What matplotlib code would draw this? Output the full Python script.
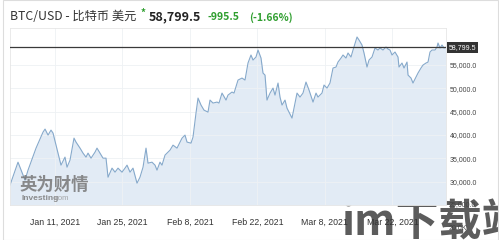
import numpy as np
import pandas as pd
import matplotlib
matplotlib.use('Agg')
import matplotlib.pyplot as plt
from matplotlib.patches import Rectangle
from matplotlib.ticker import FuncFormatter

plt.rcParams['font.family'] = ['Liberation Sans', 'Noto Sans CJK SC', 'DejaVu Sans']

# 数据：自 2021-01-01 起的天数 与 BTC/USD 价格
days = [0.66, 2.32, 3.78, 4.40, 6.06, 7.51, 7.93, 8.55, 9.17, 9.59,
        10.62, 11.24, 12.07, 12.49, 13.11, 13.94, 14.36, 15.19, 15.81, 16.43,
        16.85, 17.47, 18.30, 18.71, 19.34, 19.96, 20.58, 21.00, 21.83, 22.45,
        23.07, 23.90, 24.52, 24.94, 25.56, 26.18, 27.01, 27.63, 28.26, 28.88,
        29.29, 30.12, 30.75, 31.16, 31.78, 32.20, 32.82, 33.86, 34.48, 35.31,
        36.35, 36.97, 37.39, 38.22, 38.63, 39.25, 39.67, 40.29, 40.91, 41.74,
        42.16, 42.78, 43.61, 44.02, 44.65, 45.48, 45.89, 46.72, 47.14, 47.97,
        48.80, 49.42, 50.04, 50.66, 51.08, 51.70, 52.12, 52.74, 53.15, 53.57,
        53.98, 54.61, 55.23, 55.64, 56.27, 56.68, 57.10, 57.72, 58.13, 59.17,
        59.79, 60.21, 60.83, 61.45, 62.07, 62.70, 63.53, 64.15, 64.56, 65.39,
        65.81, 66.43, 67.05, 67.68, 68.30, 68.71, 69.34, 69.75, 70.37, 70.79,
        71.41, 71.83, 72.66, 73.07, 73.69, 74.11, 74.73, 75.15, 75.77, 76.39,
        77.01, 77.43, 78.05, 78.67, 79.09, 79.50, 79.92, 80.54, 81.16, 81.37,
        81.99, 82.41, 83.03, 83.24, 83.86, 84.27, 84.90, 85.31, 85.93, 86.35,
        86.97, 87.39, 87.80, 88.22, 88.84, 89.25, 89.46, 89.88, 90.29, 90.71,
        91.12]
prices = [29250, 34180, 30320, 32470, 37190, 40620, 41270, 39980, 41050, 40410,
          36120, 33540, 35260, 33110, 34610, 39330, 38480, 37190, 36120, 35260,
          36120, 35040, 36330, 37190, 36120, 35040, 35040, 30960, 32900, 32040,
          32900, 32040, 32900, 33540, 32040, 32900, 29680, 30960, 33110, 37190,
          33970, 34180, 33540, 32470, 34180, 33540, 35690, 36760, 37830, 37190,
          39330, 39980, 38480, 38260, 39550, 44700, 47920, 46420, 45340, 44910,
          47490, 46850, 47060, 46850, 48990, 47490, 48560, 49210, 48990, 51780,
          52210, 51780, 55430, 57150, 56070, 56720, 58220, 56500, 53280, 52850,
          47490, 48990, 50060, 48560, 51140, 48130, 46420, 47490, 45770, 43630,
          46850, 48990, 48130, 48990, 51350, 49640, 47060, 48990, 48130, 48990,
          50710, 50060, 51140, 54360, 54570, 55640, 56500, 57150, 56500, 57580,
          56720, 58220, 61010, 60370, 59290, 57580, 54570, 56070, 56720, 58650,
          58220, 58650, 58220, 58860, 58430, 58220, 57150, 57790, 56720, 54570,
          55430, 54360, 55640, 52850, 52210, 51140, 52420, 53280, 54360, 55000,
          55430, 55640, 57790, 58220, 58220, 58860, 59720, 58650, 59290, 58650,
          58799.5]
last_price = 58799.5
change = -995.5
change_pct = -1.66
tick_dates = ['2021-01-11', '2021-01-25', '2021-02-08', '2021-02-22', '2021-03-08', '2021-03-22']
y_ticks = [30000, 35000, 40000, 45000, 50000, 55000]

t = pd.Timestamp('2021-01-01') + pd.to_timedelta(days, unit='D')

W, H = 499, 240
fig = plt.figure(figsize=(W / 100, H / 100), dpi=100)

def fx(x):
    return x / W

def fy(y):
    return 1 - y / H

ax = fig.add_axes([fx(10), fy(205), fx(446) - fx(10), fy(28) - fy(205)])
ax.set_facecolor('none')
ax.fill_between(t, prices, 25000, color='#e2ebf5', lw=0)
ax.plot(t, prices, color='#86a9cb', lw=0.8)
ax.axhline(last_price, color='#3a3a3a', lw=0.9, zorder=5)

ax.set_xlim(t[0], t[-1])
ax.set_ylim(25000, 62940)
ax.set_xticks(pd.to_datetime(tick_dates))
ax.xaxis.set_major_formatter(FuncFormatter(
    lambda v, p: matplotlib.dates.num2date(v).strftime('%b %d, %Y').replace(' 0', ' ')))
ax.set_yticks(y_ticks)
ax.yaxis.tick_right()
ax.yaxis.set_major_formatter(FuncFormatter(lambda v, p: f'{v:,.1f}'))
ax.tick_params(axis='x', length=0, pad=9, labelsize=6.3, labelcolor='#333333')
ax.tick_params(axis='y', length=0, pad=3, labelsize=5, labelcolor='#444444')
ax.grid(color='#eef1f4', lw=0.6)
for s in ax.spines.values():
    s.set_color('#e6e6e6')
    s.set_linewidth(0.6)

# 绘图区下方的两个刻度标签
ytr = ax.get_yaxis_transform()
ax.text(1.007, 25000, '25,000.0', transform=ytr, fontsize=5, color='#444444',
        va='center', ha='left', clip_on=False)
ax.text(1.007, 20000, '20.0K', transform=ytr, fontsize=5, color='#444444',
        va='center', ha='left', clip_on=False)
ax.text(1.006, last_price, f'{last_price:,.1f}', transform=ytr,
        fontsize=5, color='white', va='center', ha='left', zorder=6,
        bbox=dict(boxstyle='square,pad=0.25', fc='#333333', ec='none'))

# 标题行
hdr = ['Noto Sans CJK SC', 'DejaVu Sans']
fig.text(fx(10), fy(17), 'BTC/USD - 比特币 美元', family=hdr, fontsize=8.8,
         color='#333333', va='center')
fig.text(fx(141), fy(13), '*', family=hdr, fontsize=7, fontweight='bold',
         color='#2e9e2e', va='center')
fig.text(fx(149), fy(17), f'{last_price:,.1f}', family=hdr, fontsize=9,
         fontweight='bold', color='#222222', va='center')
fig.text(fx(207), fy(17.5), f'{change:,.1f}', family=hdr, fontsize=7.5,
         fontweight='bold', color='#2e9e2e', va='center')
fig.text(fx(249), fy(17.5), f'({change_pct:.2f}%)', family=hdr, fontsize=7.5,
         fontweight='bold', color='#2e9e2e', va='center')

# 水印
fig.text(fx(20), fy(185), '英为财情', family=hdr, fontsize=12.5, fontweight='bold',
         color='#777777', alpha=0.85, va='center')
fig.text(fx(21), fy(198), 'Investing', fontsize=6, fontweight='bold',
         color='#7a7a7a', alpha=0.85, va='center')
fig.text(fx(55), fy(198), 'com', fontsize=5.5, color='#9a9a9a', alpha=0.85, va='center')
fig.text(fx(341), fy(201), 'im下载站', family=hdr, fontsize=31, fontweight='bold',
         color='#4a4a4a', alpha=0.9, va='top', zorder=-1)

fig.patches.append(Rectangle((fx(3), 0), fx(498) - fx(3), fy(2) + 0.01,
                             transform=fig.transFigure, fill=False,
                             ec='#dddddd', lw=0.8))

fig.savefig('out.png', dpi=100)
